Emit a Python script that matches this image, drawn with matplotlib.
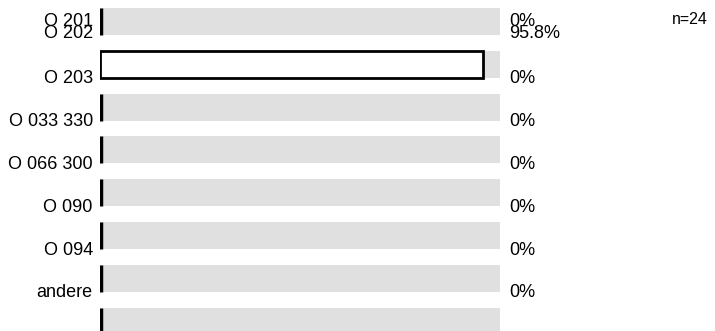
import matplotlib
matplotlib.use('Agg')
import matplotlib.pyplot as plt

plt.rcParams['font.family'] = ['Liberation Sans', 'DejaVu Sans']

labels = ["O 201", "O 202", "O 203", "O 033 330", "O 066 300", "O 090", "O 094", "andere"]
values = [0, 95.8, 0, 0, 0, 0, 0, 0]
pct_labels = ["0%", "95.8%", "0%", "0%", "0%", "0%", "0%", "0%"]
n_text = "n=24"

W, H = 715, 331
fig = plt.figure(figsize=(W / 100, H / 100), dpi=100)
ax = fig.add_axes([100 / W, 0, 400 / W, 1])

row_px = 42.8
top_px = 21.5
ax.set_xlim(0, 100)
ax.set_ylim((H - top_px) / row_px, -top_px / row_px)
ax.axis('off')

bar_h = 27 / row_px
rows = list(range(len(values)))

# grey background track for every row
ax.barh(rows, [100] * len(rows), height=bar_h, color='#e0e0e0', zorder=1)

for i, v in enumerate(values):
    if v > 0:
        ax.barh(i, v, height=bar_h, color='white', edgecolor='black',
                linewidth=2, zorder=2)
    else:
        ax.plot([0.15, 0.15], [i - bar_h / 2, i + bar_h / 2], color='black',
                linewidth=2.5, solid_capstyle='butt', zorder=3)

# labels sit slightly off the rows (as in the source)
for k, (lab, pct) in enumerate(zip(labels, pct_labels)):
    if k == 0:
        y = 0.01
    elif k == 1:
        y = 0.29
    else:
        y = (k - 1) + 0.34
    ax.text(-1.8, y, lab, ha='right', va='center', fontsize=13)
    ax.text(102.2, y, pct, ha='left', va='center', fontsize=13)

fig.text(672 / W, 1 - 20 / H, n_text, ha='left', va='center', fontsize=11.5)

fig.savefig('out.png', dpi=100)
